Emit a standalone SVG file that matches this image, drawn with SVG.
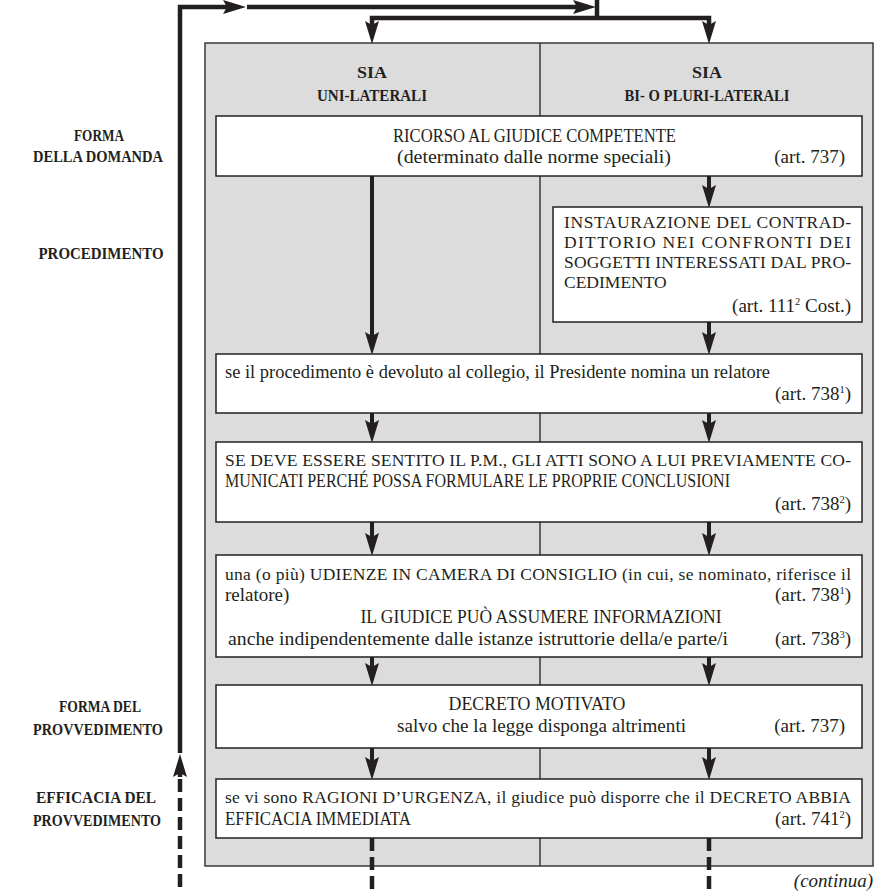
<svg xmlns="http://www.w3.org/2000/svg" width="877" height="891" viewBox="0 0 877 891">
<style>
.t{font-family:"Liberation Serif","Times New Roman",serif;font-size:19px;fill:#231f20}
.j{font-size:17.5px}
.b{font-family:"Liberation Serif","Times New Roman",serif;font-size:17.5px;font-weight:bold;fill:#231f20;text-anchor:middle}
.it{font-family:"Liberation Serif","Times New Roman",serif;font-size:19px;font-style:italic;fill:#231f20;text-anchor:end}
.e{text-anchor:end}
.m{text-anchor:middle}
.box{fill:#fff;stroke:#231f20;stroke-width:1.5}
.ln{fill:none;stroke:#231f20;stroke-width:4.5}
.col{fill:none;stroke:#231f20;stroke-width:4}
.dash{fill:none;stroke:#231f20;stroke-width:4.5;stroke-dasharray:13 6}
.sup{font-size:10.5px}
</style>
<defs>
<marker id="ah" markerUnits="userSpaceOnUse" markerWidth="24" markerHeight="14" refX="12" refY="7" orient="auto-start-reverse" overflow="visible">
<path d="M0,0 L23,7 L0,14 L4,7 z" fill="#231f20"/>
</marker>
</defs>

<g id="panel">
<rect x="205" y="43" width="668" height="823" fill="#dcdcdd" stroke="#3a3a3a" stroke-width="1.5"/>
<line x1="540" y1="43" x2="540" y2="866" stroke="#3a3a3a" stroke-width="1.5"/>
</g>

<g id="labels">
<text class="b" x="99" y="141" textLength="50" lengthAdjust="spacingAndGlyphs">FORMA</text>
<text class="b" x="98" y="162" textLength="130" lengthAdjust="spacingAndGlyphs">DELLA DOMANDA</text>
<text class="b" x="101" y="259" textLength="125" lengthAdjust="spacingAndGlyphs">PROCEDIMENTO</text>
<text class="b" x="100" y="712" textLength="82" lengthAdjust="spacingAndGlyphs">FORMA DEL</text>
<text class="b" x="98" y="735" textLength="130" lengthAdjust="spacingAndGlyphs">PROVVEDIMENTO</text>
<text class="b" x="96" y="803" textLength="120" lengthAdjust="spacingAndGlyphs">EFFICACIA DEL</text>
<text class="b" x="97" y="826" textLength="128" lengthAdjust="spacingAndGlyphs">PROVVEDIMENTO</text>
</g>

<g id="head-uni">
<text class="b" x="372" y="78" textLength="30" lengthAdjust="spacingAndGlyphs">SIA</text>
<text class="b" x="372" y="101" textLength="110" lengthAdjust="spacingAndGlyphs">UNI-LATERALI</text>
</g>
<g id="head-bi">
<text class="b" x="707" y="78" textLength="30" lengthAdjust="spacingAndGlyphs">SIA</text>
<text class="b" x="707" y="101" textLength="165" lengthAdjust="spacingAndGlyphs">BI- O PLURI-LATERALI</text>
</g>

<g id="connectors">
<path class="ln" d="M180,753 V7 H235" marker-end="url(#ah)"/>
<path class="ln" d="M247,7 H585" marker-end="url(#ah)"/>
<path class="ln" d="M597,0 V18"/>
<path class="ln" d="M372,33 V18 H709 V33" marker-start="url(#ah)" marker-end="url(#ah)"/>
<path class="ln" d="M180,777 V765" marker-end="url(#ah)"/>
<path class="dash" d="M180,779 V891"/>
<path class="col" d="M372,176 V344" marker-end="url(#ah)"/>
<path class="col" d="M709,176 V197" marker-end="url(#ah)"/>
<path class="col" d="M709,322 V344" marker-end="url(#ah)"/>
<path class="col" d="M372,413 V432" marker-end="url(#ah)"/>
<path class="col" d="M709,413 V432" marker-end="url(#ah)"/>
<path class="col" d="M372,522 V545" marker-end="url(#ah)"/>
<path class="col" d="M709,522 V545" marker-end="url(#ah)"/>
<path class="col" d="M372,657 V675" marker-end="url(#ah)"/>
<path class="col" d="M709,657 V675" marker-end="url(#ah)"/>
<path class="col" d="M372,748 V769" marker-end="url(#ah)"/>
<path class="col" d="M709,748 V769" marker-end="url(#ah)"/>
<path class="dash" d="M372,838 V891"/>
<path class="dash" d="M709,838 V891"/>
</g>

<g id="ricorso">
<rect class="box" x="216" y="116" width="646" height="60"/>
<text class="t" x="393" y="142" textLength="283" lengthAdjust="spacingAndGlyphs">RICORSO AL GIUDICE COMPETENTE</text>
<text class="t" x="397" y="163" textLength="274" lengthAdjust="spacingAndGlyphs">(determinato dalle norme speciali)</text>
<text class="t e" x="845" y="163">(art. 737)</text>
</g>

<g id="instaurazione">
<rect class="box" x="553" y="207" width="309" height="115"/>
<text class="t j" x="564" y="228" textLength="287">INSTAURAZIONE DEL CONTRAD-</text>
<text class="t j" x="564" y="248" textLength="287">DITTORIO NEI CONFRONTI DEI</text>
<text class="t j" x="564" y="268" textLength="287">SOGGETTI INTERESSATI DAL PRO-</text>
<text class="t j" x="564" y="288">CEDIMENTO</text>
<text class="t e" x="851" y="312">(art. 111<tspan class="sup" dy="-7">2</tspan><tspan dy="7"> Cost.)</tspan></text>
</g>

<g id="relatore">
<rect class="box" x="216" y="354" width="646" height="59"/>
<text class="t" x="225" y="378" textLength="545" lengthAdjust="spacingAndGlyphs">se il procedimento è devoluto al collegio, il Presidente nomina un relatore</text>
<text class="t e" x="851" y="400">(art. 738<tspan class="sup" dy="-7">1</tspan><tspan dy="7">)</tspan></text>
</g>

<g id="pm">
<rect class="box" x="216" y="442" width="646" height="80"/>
<text class="t j" x="225" y="466" textLength="626">SE DEVE ESSERE SENTITO IL P.M., GLI ATTI SONO A LUI PREVIAMENTE CO-</text>
<text class="t" x="225" y="487" textLength="505" lengthAdjust="spacingAndGlyphs">MUNICATI PERCHÉ POSSA FORMULARE LE PROPRIE CONCLUSIONI</text>
<text class="t e" x="851" y="510">(art. 738<tspan class="sup" dy="-7">2</tspan><tspan dy="7">)</tspan></text>
</g>

<g id="udienze">
<rect class="box" x="216" y="555" width="646" height="102"/>
<text class="t j" x="225" y="580" textLength="626">una (o più) UDIENZE IN CAMERA DI CONSIGLIO (in cui, se nominato, riferisce il</text>
<text class="t" x="225" y="601">relatore)</text>
<text class="t e" x="851" y="601">(art. 738<tspan class="sup" dy="-7">1</tspan><tspan dy="7">)</tspan></text>
<text class="t m" x="541" y="623" textLength="361" lengthAdjust="spacingAndGlyphs">IL GIUDICE PUÒ ASSUMERE INFORMAZIONI</text>
<text class="t" x="228" y="645" textLength="500" lengthAdjust="spacingAndGlyphs">anche indipendentemente dalle istanze istruttorie della/e parte/i</text>
<text class="t e" x="851" y="645">(art. 738<tspan class="sup" dy="-7">3</tspan><tspan dy="7">)</tspan></text>
</g>

<g id="decreto">
<rect class="box" x="216" y="685" width="646" height="63"/>
<text class="t m" x="537" y="710" textLength="177" lengthAdjust="spacingAndGlyphs">DECRETO MOTIVATO</text>
<text class="t" x="397" y="732" textLength="289" lengthAdjust="spacingAndGlyphs">salvo che la legge disponga altrimenti</text>
<text class="t e" x="845" y="732">(art. 737)</text>
</g>

<g id="urgenza">
<rect class="box" x="216" y="779" width="646" height="59"/>
<text class="t j" x="225" y="803" textLength="626">se vi sono RAGIONI D’URGENZA, il giudice può disporre che il DECRETO ABBIA</text>
<text class="t" x="225" y="825" textLength="186" lengthAdjust="spacingAndGlyphs">EFFICACIA IMMEDIATA</text>
<text class="t e" x="851" y="825">(art. 741<tspan class="sup" dy="-7">2</tspan><tspan dy="7">)</tspan></text>
</g>

<text class="it" x="873" y="887">(continua)</text>
</svg>
